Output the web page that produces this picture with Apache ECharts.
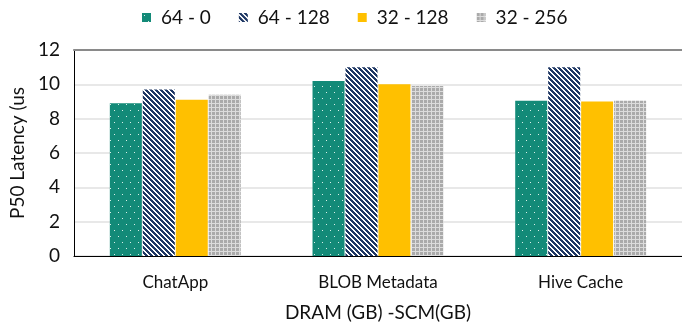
<!DOCTYPE html>
<html>
<head>
<meta charset="utf-8">
<script src="https://cdn.jsdelivr.net/npm/echarts@6/dist/echarts.min.js"></script>
<style>
  html, body { margin: 0; padding: 0; background: #fff; }
  #chart { width: 682px; height: 327px; }
</style>
</head>
<body>
<div id="chart"></div>
<script>
// Workloads on the x axis
const categories = ['ChatApp', 'BLOB Metadata', 'Hive Cache'];
// DRAM (GB) - SCM (GB) configurations
const configNames = ['64 - 0', '64 - 128', '32 - 128', '32 - 256'];
// P50 latency (us) per workload
const lat64_0 = [8.9, 10.2, 9.05];
const lat64_128 = [9.7, 11.0, 11.0];
const lat32_128 = [9.1, 10.0, 9.0];
const lat32_256 = [9.4, 9.9, 9.05];
const yMin = 0, yMax = 12, yStep = 2;

// Small canvas tiles used as repeating fill patterns
function makeTile(w, h, pixel) {
  const c = document.createElement('canvas');
  c.width = w; c.height = h;
  const ctx = c.getContext('2d');
  for (let y = 0; y < h; y++) {
    for (let x = 0; x < w; x++) {
      ctx.fillStyle = pixel(x, y);
      ctx.fillRect(x, y, 1, 1);
    }
  }
  return c;
}
const dotTile = makeTile(8, 12, (x, y) =>
  ((x === 2 && y === 2) || (x === 6 && y === 8)) ? '#d9efe9' : '#138a78');
const stripeTile = makeTile(5, 5, (x, y) =>
  (((x - y) % 5 + 5) % 5) < 3 ? '#1f3864' : '#ffffff');
const gridTile = makeTile(4, 4, (x, y) =>
  (x === 3 || y === 3) ? '#dcdcdc' : '#aaaaaa');

const fills = [
  { image: dotTile, repeat: 'repeat' },
  { image: stripeTile, repeat: 'repeat' },
  '#ffc000',
  { image: gridTile, repeat: 'repeat' }
];
const values = [lat64_0, lat64_128, lat32_128, lat32_256];

const FONT = 'Lato, "Open Sans", sans-serif';
const INK = '#111111';
const chart = echarts.init(document.getElementById('chart'), null, { renderer: 'canvas' });

chart.setOption({
  animation: false,
  backgroundColor: '#ffffff',
  textStyle: { fontFamily: FONT, color: INK },
  legend: {
    data: configNames,
    left: 137,
    top: 3,
    itemWidth: 9,
    itemHeight: 9,
    itemGap: 28,
    icon: 'rect',
    textStyle: { fontFamily: FONT, fontSize: 19, color: INK, padding: [0, 0, 0, 5] }
  },
  grid: { left: 68, right: -4, top: 50, bottom: 66, containLabel: false },
  xAxis: [
    {
      type: 'category',
      data: categories,
      position: 'bottom',
      axisLine: { lineStyle: { color: '#000', width: 1 } },
      axisTick: { show: false },
      axisLabel: { fontFamily: FONT, fontSize: 17, color: INK, margin: 18 },
      name: 'DRAM (GB) -SCM(GB)',
      nameLocation: 'middle',
      nameGap: 47,
      nameTextStyle: { fontFamily: FONT, fontSize: 19, color: INK }
    },
    {
      type: 'category',
      data: categories,
      position: 'top',
      axisLine: { lineStyle: { color: '#8a8a8a', width: 2 } },
      axisTick: { show: false },
      axisLabel: { show: false }
    }
  ],
  yAxis: {
    type: 'value',
    min: yMin,
    max: yMax,
    interval: yStep,
    axisLine: { show: true, lineStyle: { color: '#000', width: 1 } },
    axisTick: { show: false },
    axisLabel: { fontFamily: FONT, fontSize: 19, color: INK, margin: 14 },
    splitLine: { lineStyle: { color: '#e0e0e0', width: 1.5 } },
    name: 'P50 Latency (us',
    nameLocation: 'middle',
    nameGap: 36,
    nameTextStyle: { fontFamily: FONT, fontSize: 19, color: INK }
  },
  series: configNames.map((name, i) => ({
    name: name,
    type: 'bar',
    data: values[i],
    barWidth: 32,
    barGap: '3%',
    itemStyle: { color: fills[i] }
  }))
});
</script>
</body>
</html>
